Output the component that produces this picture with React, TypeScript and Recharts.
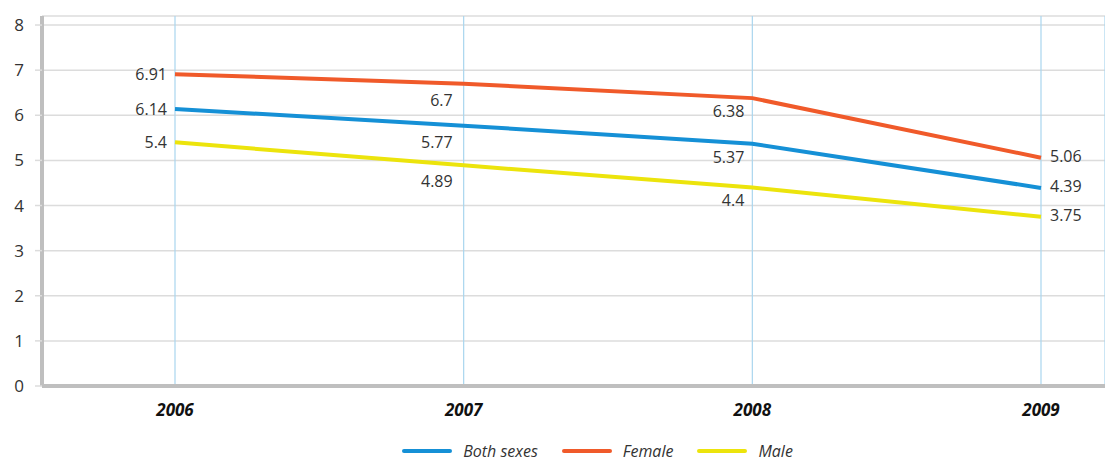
import React from 'react';
import { LineChart, Line, XAxis, YAxis, CartesianGrid, Legend, LabelList } from 'recharts';

const years = ['2006', '2007', '2008', '2009'];
const bothSexes = [6.14, 5.77, 5.37, 4.39];
const female = [6.91, 6.7, 6.38, 5.06];
const male = [5.4, 4.89, 4.4, 3.75];
const yTicks = [0, 1, 2, 3, 4, 5, 6, 7, 8];

const series = [
  { key: 'both', name: 'Both sexes', color: '#1590d6' },
  { key: 'female', name: 'Female', color: '#f05a2a' },
  { key: 'male', name: 'Male', color: '#ece40c' },
];

const data = years.map((y, i) => ({
  year: y,
  both: bothSexes[i],
  female: female[i],
  male: male[i],
}));

const FONT = '"Open Sans", "Noto Sans", sans-serif';

// label placement follows the original: left for the first year, below-left for the middle ones, right for the last
const ValueLabel = (props: any) => {
  const { x, y, value, index } = props;
  let tx = x - 8;
  let ty = y;
  let anchor: 'start' | 'end' = 'end';
  if (index === 1) {
    tx = x - 11;
    ty = y + 16;
  } else if (index === 2) {
    tx = x - 8;
    ty = y + 13;
  } else if (index === 3) {
    tx = x + 9;
    ty = y - 2;
    anchor = 'start';
  }
  return (
    <text x={tx} y={ty} textAnchor={anchor} dominantBaseline="central" fill="#333" fontSize={16} fontFamily={FONT}>
      {value}
    </text>
  );
};

const LegendContent = () => (
  <div style={{ display: 'flex', justifyContent: 'center', gap: 24, fontFamily: FONT, fontSize: 16, fontStyle: 'italic', color: '#333', paddingLeft: 90 }}>
    {series.map((s) => (
      <div key={s.key} style={{ display: 'flex', alignItems: 'center', gap: 11 }}>
        <span style={{ display: 'inline-block', width: 50, height: 4, borderRadius: 2, background: s.color }} />
        <span>{s.name}</span>
      </div>
    ))}
  </div>
);

const App: React.FC = () => {
  return (
    <div style={{ position: 'absolute', left: 0, top: 0, background: '#fff' }}>
      <LineChart width={1105} height={460} data={data} margin={{ top: 16, right: 0, left: 0, bottom: 0 }}>
        <CartesianGrid stroke="#dcdcdc" strokeWidth={1.5} vertical={false} />
        <CartesianGrid stroke="#a9d6ee" strokeWidth={1.2} horizontal={false} />
        <XAxis
          dataKey="year"
          padding={{ left: 133, right: 64 }}
          height={74}
          axisLine={{ stroke: '#bfbfbf', strokeWidth: 4 }}
          tickLine={false}
          tick={{ fill: '#111', fontSize: 17, fontWeight: 700, fontStyle: 'italic', fontFamily: FONT }}
          dy={10}
        />
        <YAxis
          domain={[0, 8.2]}
          ticks={yTicks}
          width={42}
          axisLine={{ stroke: '#bfbfbf', strokeWidth: 4 }}
          tickLine={{ stroke: '#dcdcdc', strokeWidth: 1.5 }}
          tickSize={7}
          tick={{ fill: '#333', fontSize: 17, fontFamily: FONT }}
          dx={-9}
        />
        <Legend
          layout="horizontal"
          verticalAlign="middle"
          content={<LegendContent />}
          wrapperStyle={{ top: 440, left: 0, width: 1105 }}
        />
        {series.map((s) => (
          <Line
            key={s.key}
            dataKey={s.key}
            name={s.name}
            stroke={s.color}
            strokeWidth={4}
            dot={false}
            type="linear"
            isAnimationActive={false}
          >
            <LabelList dataKey={s.key} content={<ValueLabel />} />
          </Line>
        ))}
      </LineChart>
    </div>
  );
};

export default App;
